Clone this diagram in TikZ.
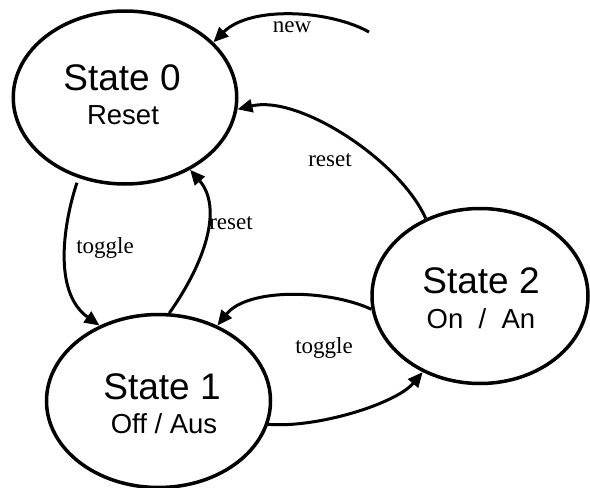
\documentclass[tikz,border=0pt]{standalone}
\usepackage{fontspec}
\setmainfont{Liberation Serif}
\newfontfamily\statesans{Liberation Sans}
\usetikzlibrary{arrows.meta,shapes.geometric}
\begin{document}
\begin{tikzpicture}[x=1pt,y=-1pt,
  statebox/.style={ellipse,draw,line width=3.5pt,inner sep=0pt},
  stitle/.style={font=\statesans\fontsize{37}{40}\selectfont,inner sep=0pt,anchor=base},
  ssub/.style={font=\statesans\fontsize{27.5}{30}\selectfont,inner sep=0pt,anchor=base},
  elabel/.style={font=\fontsize{23}{26}\selectfont,inner sep=0pt,anchor=base},
  conn/.style={line width=3pt,-{Triangle[length=15pt,width=13pt]}}]
\useasboundingbox (0,0) rectangle (590,488);
% states
\node[statebox,minimum width=223.5pt,minimum height=173pt] (s0) at (125,97.5) {};
\node[statebox,minimum width=224pt,minimum height=173pt] (s1) at (158.5,401) {};
\node[statebox,minimum width=216pt,minimum height=175pt] (s2) at (480,296) {};
% state texts
\node[stitle] (s0a) at (122,90) {State 0};
\node[ssub] (s0b) at (123,124) {Reset};
\node[stitle] (s1a) at (162,399) {State 1};
\node[ssub] (s1b) at (164,433) {Off / Aus};
\node[stitle] (s2a) at (481,293) {State 2};
\node[ssub] (s2b) at (481,328) {On\ \ /\ \ An};
% connectors
\coordinate (newstart) at (369,32);
\draw[conn] (newstart) .. controls +(-39,-22) and +(37,-37) .. (s0.32);
\draw[conn] (s2.125) .. controls +(-25,-57) and +(62,-15) .. (s0.-6);
\draw[conn,shorten <=5pt] (s0.240) .. controls +(-14,42) and +(-48,-34) .. (s1.128);
\draw[conn] (s1.83) .. controls +(36,-51) and +(33,38) .. (s0.-48);
\draw[conn] (s2.187) .. controls +(-43,-20) and +(30,-38) .. (s1.52);
\draw[conn] (s1.-12) .. controls +(48,4) and +(-27,32) .. (s2.233);
% labels
\node[elabel] (lnew) at (292,32) {new};
\node[elabel] (lreset1) at (330,166) {reset};
\node[elabel] (lreset2) at (231,229) {reset};
\node[elabel] (ltoggle1) at (105,253) {toggle};
\node[elabel] (ltoggle2) at (324,353) {toggle};
\end{tikzpicture}
\end{document}
